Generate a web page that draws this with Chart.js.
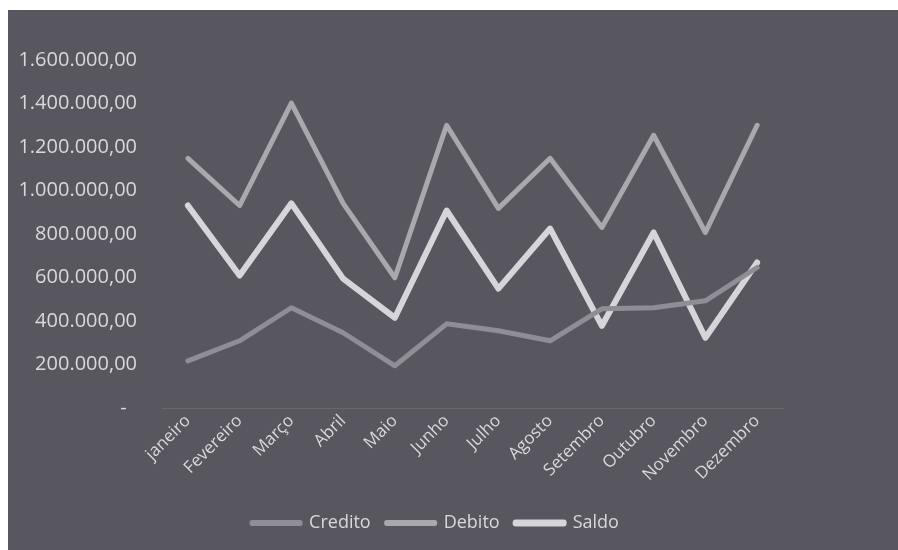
<!DOCTYPE html>
<html>
<head>
<meta charset="utf-8">
<script src="https://cdn.jsdelivr.net/npm/chart.js@4.4.1/dist/chart.umd.min.js"></script>
<style>
  html, body { margin: 0; padding: 0; background: #ffffff; width: 898px; height: 550px; overflow: hidden; }
  #wrap { position: absolute; left: 8px; top: 10px; width: 890px; height: 540px; background: #58575f; }
  canvas { display: block; }
</style>
</head>
<body>
<div id="wrap"><canvas id="c" width="890" height="540"></canvas></div>
<script>
const categories = ['janeiro', 'Fevereiro', 'Março', 'Abril', 'Maio', 'Junho', 'Julho', 'Agosto', 'Setembro', 'Outubro', 'Novembro', 'Dezembro'];
const credito = [217000, 309000, 461000, 346000, 194000, 387000, 355000, 309000, 456000, 461000, 493000, 646000];
const debito  = [1148000, 931000, 1402000, 941000, 599000, 1300000, 918000, 1148000, 830000, 1254000, 807000, 1300000];
const saldo   = [931000, 609000, 941000, 595000, 415000, 908000, 549000, 825000, 378000, 807000, 323000, 669000];
const yMin = 0, yMax = 1600000, yStep = 200000;
const seriesNames = ['Credito', 'Debito', 'Saldo'];

function fmtBR(v) {
  if (v === 0) return '-  ';
  const s = Math.round(v).toString().replace(/\B(?=(\d{3})+(?!\d))/g, '.');
  return s + ',00';
}

const textColor = '#d9d8dc';
Chart.defaults.font.family = '"Open Sans", sans-serif';
Chart.defaults.color = textColor;

const legendShift = {
  id: 'legendShift',
  afterLayout(chart) {
    const lg = chart.legend;
    if (!lg) return;
    const d = 37;
    lg.left += d; lg.right += d;
    if (lg.legendHitBoxes) lg.legendHitBoxes.forEach(b => { b.left += d; });
  }
};

new Chart(document.getElementById('c'), {
  type: 'line',
  data: {
    labels: categories,
    datasets: [
      { label: seriesNames[0], data: credito, borderColor: '#8f8e96', backgroundColor: '#8f8e96', borderWidth: 5 },
      { label: seriesNames[1], data: debito,  borderColor: '#a9a8ae', backgroundColor: '#a9a8ae', borderWidth: 5 },
      { label: seriesNames[2], data: saldo,   borderColor: '#d6d5d9', backgroundColor: '#d6d5d9', borderWidth: 6 }
    ]
  },
  plugins: [legendShift],
  options: {
    responsive: false,
    animation: false,
    devicePixelRatio: 1,
    layout: { padding: { left: 6, right: 115, top: 50, bottom: 8 } },
    elements: {
      line: { tension: 0, borderCapStyle: 'round', borderJoinStyle: 'round' },
      point: { radius: 0, hoverRadius: 0 }
    },
    scales: {
      x: {
        offset: true,
        grid: { display: false, drawTicks: false },
        border: { display: true, color: 'rgba(255,255,255,0.10)', width: 1 },
        ticks: { color: textColor, font: { size: 17 }, minRotation: 45, maxRotation: 45, padding: 3, autoSkip: false },
        afterFit(scale) { scale.height = 90; }
      },
      y: {
        min: yMin, max: yMax,
        grid: { display: false, drawTicks: false },
        border: { display: false },
        ticks: { stepSize: yStep, color: textColor, font: { size: 20 }, padding: 25, callback: (v) => fmtBR(v) },
        afterFit(scale) { scale.width = 148; }
      }
    },
    plugins: {
      tooltip: { enabled: false },
      legend: {
        position: 'bottom',
        align: 'center',
        labels: { color: textColor, font: { size: 18 }, boxWidth: 48, boxHeight: 1, padding: 16 }
      }
    }
  }
});
</script>
</body>
</html>
